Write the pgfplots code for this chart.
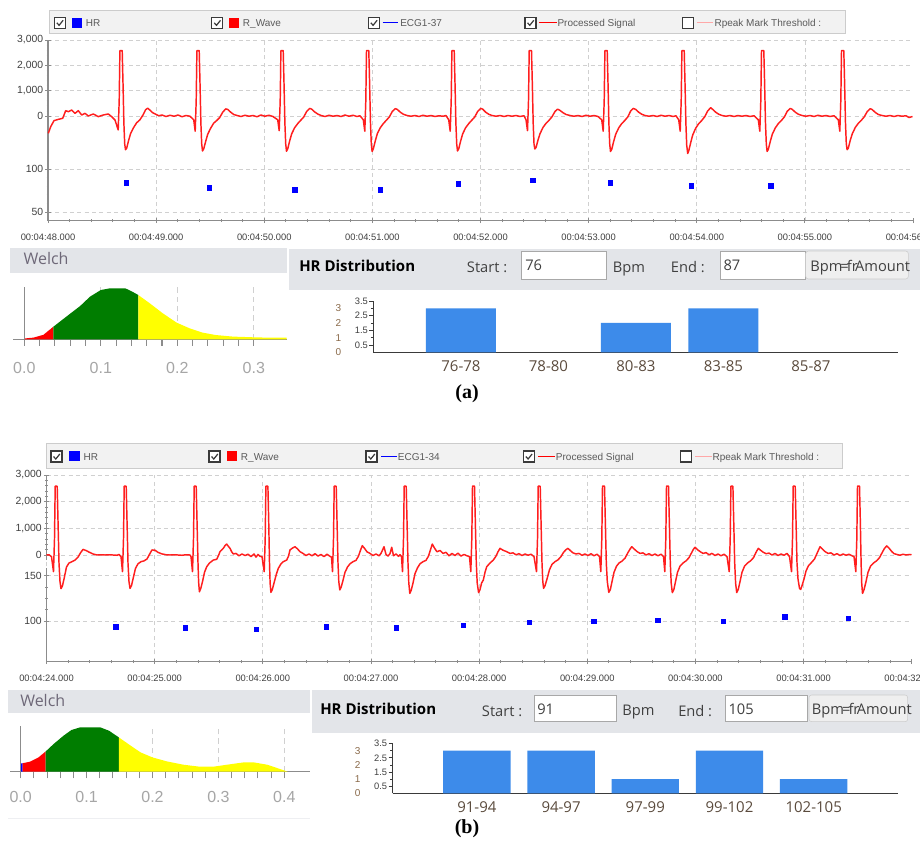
\documentclass[border=0pt]{standalone}
\usepackage{fontspec}
\setmainfont{Liberation Sans}
\newfontfamily\ui{Open Sans}
\newfontfamily\serifb{Liberation Serif}
\usepackage{pgfplots}
\pgfplotsset{compat=1.18}
\definecolor{ecgred}{HTML}{FF1E1E}
\definecolor{gridc}{HTML}{D0D0D0}
\definecolor{axc}{HTML}{8C8C8C}
\definecolor{txt}{HTML}{404040}
\definecolor{legtxt}{HTML}{5A5A5A}
\definecolor{legbg}{HTML}{F2F2F2}
\definecolor{legbd}{HTML}{CCCCCC}
\definecolor{hdr}{HTML}{E3E5E9}
\definecolor{welchtxt}{HTML}{6E6878}
\definecolor{tickgray}{HTML}{A6A6A6}
\definecolor{wgreen}{HTML}{007D00}
\definecolor{wyellow}{HTML}{FFFF00}
\definecolor{barblue}{HTML}{3D8BEA}
\definecolor{catlab}{HTML}{5B4B3D}
\definecolor{brownlab}{HTML}{8A6A4A}
\definecolor{pinkl}{HTML}{FFA8A8}
\definecolor{boxbd}{HTML}{A8A8A8}
\definecolor{btnbg}{HTML}{EFEFEF}
\definecolor{cbd}{HTML}{3A3A3A}
\pgfplotsset{
 ecgbase/.style={anchor=north west, scale only axis, width=648.75pt, tick align=outside,
   tick style={axc, line width=0.6pt}, major tick length=3.8pt, minor tick length=2.2pt,
   grid style={gridc, dash pattern=on 3pt off 2.5pt, line width=0.5pt}},
 yax/.style={hide x axis, axis y line=left, y axis line style={-, draw=axc, line width=0.8pt},
   ymajorgrids, yticklabel style={font=\fontsize{7.8}{9}\selectfont, text=txt, inner sep=1.5pt}},
 frame/.style={hide y axis, axis x line=bottom, x axis line style={-, draw=axc, line width=0.8pt},
   xmajorgrids, ymin=0, ymax=1, extra x tick style={grid=none},
   xticklabel style={font=\fontsize{7}{8}\selectfont, text=txt, yshift=-4.5pt}},
 welch/.style={anchor=north west, scale only axis, hide y axis, axis x line=bottom,
   x axis line style={-, draw=axc, line width=1pt}, tick align=outside,
   tick style={axc, line width=0.8pt}, major tick length=5pt, minor tick length=5pt,
   minor x tick num=4, xmajorgrids, grid style={gridc, dash pattern=on 4pt off 3pt, line width=0.8pt},
   ymin=0, y=0.75pt, xticklabel style={font=\fontsize{12}{14}\selectfont, text=tickgray}},
 hist/.style={anchor=north west, scale only axis, xmin=-1, xmax=5, ymin=0, ymax=3.5,
   axis lines*=left, axis line style={-, draw=cbd, line width=0.8pt}, tick align=outside,
   ytick={0.5,1.5,2.5,3.5}, yticklabels={0.5,1.5,2.5,3.5}, minor ytick={1,2,3},
   tick style={cbd, line width=0.6pt}, major tick length=3pt, minor tick length=2pt,
   extra y ticks={0,1,2,3}, extra y tick labels={0,1,2,3},
   extra y tick style={major tick length=0pt, yticklabel style={xshift=-23pt, text=brownlab, font=\fontsize{7.5}{8}\selectfont}},
   yticklabel style={font=\fontsize{7}{8}\selectfont, text=txt, inner sep=1pt},
   xtick={0,1,2,3,4}, x tick style={draw=none},
   xticklabel style={font=\ui\fontsize{11.25}{13}\selectfont, text=catlab},
   ybar, bar width=0.8}
}
\newcommand\cbx[2]{\draw[cbd, line width=1pt, fill=white] (#1,#2) rectangle ++(11,11);
  \draw[cbd, line width=0.9pt] ({#1+2.5},{#2+5.5}) -- ({#1+4.8},{#2+8}) -- ({#1+8.8},{#2+3});}
\newcommand\cbo[2]{\draw[cbd, line width=1pt, fill=white] (#1,#2) rectangle ++(11,11);}
\begin{document}
\begin{tikzpicture}
\useasboundingbox (0,0) rectangle (690pt,-637.5pt);
\clip (0,0) rectangle (690pt,-637.5pt);
\fill[white] (0,0) rectangle (690pt,-637.5pt);
\begin{scope}[x=0.75pt,y=-0.75pt]
% ---------- panel (a) legend ----------
\draw[legbd, fill=legbg] (49,10.7) rectangle (845,33.3);
\cbx{54.3}{17.3} \fill[blue] (71.7,17.5) rectangle (81.7,27.5);
\node[anchor=base west, inner sep=0, font=\fontsize{7.5}{9}\selectfont, text=legtxt] at (85.7,26.3) {HR};
\cbx{211.7}{17.3} \fill[red] (228.7,17.5) rectangle (239.3,27.5);
\node[anchor=base west, inner sep=0, font=\fontsize{7.5}{9}\selectfont, text=legtxt] at (242.7,26.3) {R\_Wave};
\cbx{368.3}{17.3} \draw[blue, line width=0.9pt] (382.7,22.6) -- (398.3,22.6);
\node[anchor=base west, inner sep=0, font=\fontsize{7.5}{9}\selectfont, text=legtxt] at (400,26.3) {ECG1-37};
\cbx{525}{17.3} \draw[red, line width=0.9pt] (539.3,22.6) -- (556.7,22.6);
\node[anchor=base west, inner sep=0, font=\fontsize{7.5}{9}\selectfont, text=legtxt] at (557.3,26.3) {Processed Signal};
\cbo{682.3}{17.3} \draw[pinkl, line width=0.9pt] (696.7,22.6) -- (713.3,22.6);
\node[anchor=base west, inner sep=0, font=\fontsize{7.5}{9}\selectfont, text=legtxt] at (714.3,26.3) {Rpeak Mark Threshold :};
% ---------- panel (a) headers ----------
\fill[hdr] (10,248.3) rectangle (286.7,272.7);
\node[anchor=base west, inner sep=0, font=\ui\fontsize{12}{14}\selectfont, text=welchtxt] at (23.3,264) {Welch};
\fill[hdr] (289,249) rectangle (920,290);
\node[anchor=base west, inner sep=0, font=\ui\bfseries\fontsize{11.25}{13}\selectfont] at (299,271.7) {HR Distribution};
\node[anchor=base west, inner sep=0, font=\ui\fontsize{11}{13}\selectfont, text=txt] at (466.7,272.7) {Start :};
\draw[boxbd, fill=white] (521,251) rectangle (606.7,279);
\node[anchor=base west, inner sep=0, font=\ui\fontsize{11}{13}\selectfont, text=txt] at (525,270) {76};
\node[anchor=base west, inner sep=0, font=\ui\fontsize{11}{13}\selectfont, text=txt] at (612.7,272) {Bpm};
\node[anchor=base west, inner sep=0, font=\ui\fontsize{11}{13}\selectfont, text=txt] at (670.7,272.7) {End :};
\draw[boxbd, fill=white] (720,251) rectangle (805.7,279);
\node[anchor=base west, inner sep=0, font=\ui\fontsize{11}{13}\selectfont, text=txt] at (723.3,270) {87};
\draw[legbd, fill=btnbg, rounded corners=2pt] (805.7,251) rectangle (908.3,279);
\node[anchor=base west, inner sep=0, font=\ui\fontsize{11}{13}\selectfont, text=txt] at (810,271.7) {Bpm\kern-1.5pt=\kern-1.5pt fr\kern-2pt Amount};
\node[font=\serifb\bfseries\fontsize{15}{17}\selectfont] at (467,394) {(a)};
% ---------- panel (b) legend ----------
\draw[legbd, fill=legbg] (46,443.3) rectangle (842.7,468.3);
\cbx{51}{451} \fill[blue] (69.3,451.2) rectangle (80,461.2);
\node[anchor=base west, inner sep=0, font=\fontsize{7.5}{9}\selectfont, text=legtxt] at (83.3,460) {HR};
\cbx{209}{451} \fill[red] (226.7,451.2) rectangle (237.3,461.2);
\node[anchor=base west, inner sep=0, font=\fontsize{7.5}{9}\selectfont, text=legtxt] at (240.7,460) {R\_Wave};
\cbx{366}{451} \draw[blue, line width=0.9pt] (381,456.3) -- (396.7,456.3);
\node[anchor=base west, inner sep=0, font=\fontsize{7.5}{9}\selectfont, text=legtxt] at (397.7,460) {ECG1-34};
\cbx{523.3}{451} \draw[red, line width=0.9pt] (538.3,456.3) -- (555,456.3);
\node[anchor=base west, inner sep=0, font=\fontsize{7.5}{9}\selectfont, text=legtxt] at (555.7,460) {Processed Signal};
\cbo{680.7}{451} \draw[pinkl, line width=0.9pt] (695,456.3) -- (711.7,456.3);
\node[anchor=base west, inner sep=0, font=\fontsize{7.5}{9}\selectfont, text=legtxt] at (712.3,460) {Rpeak Mark Threshold :};
% ---------- panel (b) headers ----------
\fill[hdr] (8.3,690) rectangle (310,713.3);
\node[anchor=base west, inner sep=0, font=\ui\fontsize{12}{14}\selectfont, text=welchtxt] at (20,706.7) {Welch};
\fill[hdr] (311.7,690) rectangle (920,733.3);
\node[anchor=base west, inner sep=0, font=\ui\bfseries\fontsize{11.25}{13}\selectfont] at (320,714.3) {HR Distribution};
\node[anchor=base west, inner sep=0, font=\ui\fontsize{11}{13}\selectfont, text=txt] at (481.7,716) {Start :};
\draw[boxbd, fill=white] (534,695) rectangle (616,721.7);
\node[anchor=base west, inner sep=0, font=\ui\fontsize{11}{13}\selectfont, text=txt] at (537,714) {91};
\node[anchor=base west, inner sep=0, font=\ui\fontsize{11}{13}\selectfont, text=txt] at (622,715.5) {Bpm};
\node[anchor=base west, inner sep=0, font=\ui\fontsize{11}{13}\selectfont, text=txt] at (678,716) {End :};
\draw[boxbd, fill=white] (725.7,695) rectangle (807.7,721.7);
\node[anchor=base west, inner sep=0, font=\ui\fontsize{11}{13}\selectfont, text=txt] at (728.3,714) {105};
\draw[legbd, fill=btnbg, rounded corners=2pt] (809,695) rectangle (907.7,721.7);
\node[anchor=base west, inner sep=0, font=\ui\fontsize{11}{13}\selectfont, text=txt] at (811.7,714.3) {Bpm\kern-1.5pt=\kern-1.5pt fr\kern-2pt Amount};
\draw[hdr!60] (8.3,818) -- (310,818);
\node[font=\serifb\bfseries\fontsize{15}{17}\selectfont] at (467,829) {(b)};
\end{scope}

% ================= PANEL (a) =================
\begin{axis}[ecgbase, frame, at={(36pt,-30pt)}, height=135.5pt, xmin=48, xmax=913,
  xtick={48,156.125,264.25,372.375,480.5,588.625,696.75,804.875},
  xticklabels={00:04:48.000,00:04:49.000,00:04:50.000,00:04:51.000,00:04:52.000,00:04:53.000,00:04:54.000,00:04:55.000},
  extra x ticks={913}, extra x tick labels={00:04:56.000}, minor xtick={48,69.625,...,913}]
\end{axis}
\begin{axis}[ecgbase, yax, at={(36pt,-112.5pt)}, height=53pt, xmin=48, xmax=913, ymin=39.9, ymax=122.1,
  ytick={50,100}, yticklabels={50,100}, minor y tick num=4]
\addplot[only marks, mark=square*, mark size=1.6pt, blue] coordinates {(126,84.1)(209.3,78.3)(294.7,75.9)(380,75.9)(458.3,82.9)(532.7,86.9)(610.3,84.1)(691,80.6)(770.7,80.6)};
\end{axis}
\begin{axis}[ecgbase, yax, at={(36pt,-30pt)}, height=82.5pt, xmin=48, xmax=913, ymin=-1342, ymax=3000, clip=false,
  ytick={0,1000,2000,3000}, yticklabels={0,{1,000},{2,000},{3,000}}, minor y tick num=4]
\addplot[ecgred, line width=1.1pt, line join=round] coordinates {
(48.3,-684)(50.7,-421)(54,-184)(58.3,-132)(62.7,-92)(65.7,210)(68.3,171)(71.7,237)(75,105)(78.3,210)(81.7,40)(85,105)(88.3,0)(93.3,80)(98.3,-26)(103.3,40)(108.3,80)(111.7,-26)(115,-158)
(118.2,-550)(119.2,600)(119.9,2580)(122.2,2580)(123,1300)(123.9,-300)(124.7,-1100)(125.5,-1330)(126.7,-1270)(128.7,-950)(130.7,-680)(133.7,-450)(136.7,-265)(139.7,-160)(142.7,20)(145.7,250)(147.7,310)(149.7,240)(152.7,130)(155.7,70)(158.7,10)(162,40)(166,-20)(170,30)(174,-10)(178,40)(182,-30)(186,20)(190,-10)(193.7,-150)
(195.2,-600)(196.2,600)(196.9,2580)(199.2,2580)(200,1300)(200.9,-300)(201.7,-1100)(202.5,-1380)(203.7,-1300)(205.7,-1000)(207.7,-720)(210.7,-480)(213.7,-280)(216.7,-180)(219.7,-60)(222.7,150)(225.7,280)(227.7,260)(230.7,150)(233.7,60)(237,20)(241,-20)(245,30)(249,-10)(253,20)(257,-30)(261,40)(265,-10)(269,30)(273,-20)(277.7,-150)
(279.2,-580)(280.2,600)(280.9,2580)(283.2,2580)(284,1300)(284.9,-300)(285.7,-1100)(286.5,-1390)(287.7,-1300)(289.7,-980)(291.7,-700)(294.7,-460)(297.7,-300)(300.7,-170)(303.7,-40)(306.7,180)(309.7,300)(311.7,270)(314.7,160)(317.7,80)(321,20)(325,-20)(329,30)(333,-10)(337,20)(341,-20)(345,40)(349,-10)(353,30)(357,-20)(360,10)(363.3,-150)
(364.8,-600)(365.8,600)(366.5,2580)(368.8,2580)(369.6,1300)(370.5,-300)(371.3,-1100)(372.1,-1400)(373.3,-1300)(375.3,-980)(377.3,-700)(380.3,-460)(383.3,-300)(386.3,-170)(389.3,-40)(392.3,180)(395.3,290)(397.3,260)(400.3,150)(403.3,70)(407,20)(411,-10)(415,20)(419,-20)(423,30)(427,-10)(431,20)(435,-20)(439,10)(443,-10)(446,20)(448.7,-150)
(450.2,-600)(451.2,600)(451.9,2580)(454.2,2580)(455,1300)(455.9,-300)(456.7,-1100)(457.5,-1380)(458.7,-1300)(460.7,-980)(462.7,-700)(465.7,-460)(468.7,-300)(471.7,-170)(474.7,-40)(477.7,180)(480.7,300)(482.7,270)(485.7,150)(488.7,70)(492,20)(496,-10)(500,20)(504,-20)(508,20)(512,-10)(516,20)(520,-20)(524,10)(526,-150)
(527.5,-580)(528.5,600)(529.2,2580)(531.5,2580)(532.3,1300)(533.2,-300)(534,-1100)(534.8,-1300)(536,-1250)(538,-950)(540,-700)(543,-450)(546,-290)(549,-170)(552,-30)(555,180)(557.5,270)(560,220)(563,130)(566,60)(570,20)(574,-10)(578,20)(582,-20)(586,30)(590,-10)(594,20)(598,-20)(601.7,-150)
(603.2,-600)(604.2,600)(604.9,2580)(607.2,2580)(608,1300)(608.9,-300)(609.7,-1100)(610.5,-1400)(611.7,-1320)(613.7,-1000)(615.7,-720)(618.7,-470)(621.7,-300)(624.7,-180)(627.7,-40)(630.7,200)(633.2,300)(635.7,260)(638.7,150)(641.7,70)(645,20)(649,-10)(653,20)(657,-20)(661,30)(665,-10)(669,20)(673,-20)(676,10)(678.7,-150)
(680.2,-600)(681.2,600)(681.9,2580)(684.2,2580)(685,1300)(685.9,-300)(686.7,-1150)(687.7,-1480)(688.7,-1380)(690.7,-1050)(692.7,-750)(695.7,-480)(698.7,-300)(701.7,-180)(704.7,-30)(707.7,200)(710.7,330)(712.7,260)(715.7,150)(718.7,70)(722,20)(726,-10)(730,20)(734,-20)(738,20)(742,-10)(746,20)(750,-20)(754,10)(758.3,-150)
(759.8,-600)(760.8,600)(761.5,2580)(763.8,2580)(764.6,1300)(765.5,-300)(766.3,-1100)(767.1,-1400)(768.3,-1320)(770.3,-1000)(772.3,-720)(775.3,-470)(778.3,-300)(781.3,-180)(784.3,-40)(787.3,190)(790.3,300)(792.3,260)(795.3,150)(798.3,70)(802,20)(806,-10)(810,20)(814,-20)(818,30)(822,-10)(826,20)(830,-20)(834,10)(838.3,-150)
(839.8,-600)(840.8,600)(841.5,2580)(843.8,2580)(844.6,1300)(845.5,-300)(846.3,-1100)(847.1,-1330)(848.3,-1270)(850.3,-950)(852.3,-700)(855.3,-450)(858.3,-290)(861.3,-170)(864.3,-30)(867.3,180)(870.3,290)(872.3,250)(875.3,140)(878.3,60)(882,20)(886,-10)(890,20)(894,-20)(898,20)(902,-10)(906,10)(909,-60)(912.5,-20)};
\end{axis}
% Welch (a)
\begin{axis}[welch, at={(9.975pt,-215.25pt)}, width=205.05pt, xmin=-0.0144, xmax=0.343, ymax=52.3,
  xtick={0,0.1,0.2,0.3}, xticklabels={0.0,0.1,0.2,0.3}, xticklabel style={yshift=-9pt}]
\addplot[fill=red, draw=none] coordinates {(0,0.8)(0.012,1.7)(0.025,4.5)(0.038,12.6)} \closedcycle;
\addplot[fill=wgreen, draw=none] coordinates {(0.038,12.6)(0.055,22.7)(0.073,33.3)(0.086,42.7)(0.1,49.3)(0.112,51)(0.132,51)(0.141,47.7)(0.149,44.3)} \closedcycle;
\addplot[fill=wyellow, draw=none] coordinates {(0.149,44.3)(0.164,36)(0.181,26)(0.199,16.7)(0.216,11)(0.233,6.7)(0.25,4.3)(0.273,2.7)(0.3,2)(0.317,1.7)(0.343,1.7)} \closedcycle;
\draw[axc, line width=1pt] (axis cs:0,0) -- (axis cs:0,52.3);
\end{axis}
% Histogram (a)
\begin{axis}[hist, at={(280.1pt,-225.7pt)}, width=393.75pt, height=38.5pt,
  xticklabels={76-78,78-80,80-83,83-85,85-87}]
\addplot[fill=barblue, draw=none] coordinates {(0,3)(2,2)(3,3)};
\end{axis}

% ================= PANEL (b) =================
\begin{axis}[ecgbase, frame, at={(34.875pt,-356.25pt)}, width=648.9pt, height=140pt, xmin=46.5, xmax=911.7,
  xtick={46.5,154.65,262.8,370.95,479.1,587.25,695.4,803.55},
  xticklabels={00:04:24.000,00:04:25.000,00:04:26.000,00:04:27.000,00:04:28.000,00:04:29.000,00:04:30.000,00:04:31.000},
  extra x ticks={911.7}, extra x tick labels={00:04:32.000}, minor xtick={46.5,68.13,...,911.7}]
\end{axis}
\begin{axis}[ecgbase, yax, at={(34.875pt,-426pt)}, width=648.9pt, height=70.3pt, xmin=46.5, xmax=911.7, ymin=55.1, ymax=158.5,
  ytick={100,150}, yticklabels={100,150}, minor y tick num=3]
\addplot[only marks, mark=square*, mark size=1.6pt, blue] coordinates {(115.7,93.7)(185.3,92.6)(256,90.8)(326,93.7)(396,92.6)(463.3,95.6)(529,98.6)(593.7,100)(657.7,101.1)(723.3,100)(784.7,104.7)(848.3,103)};
\end{axis}
\begin{axis}[ecgbase, yax, at={(34.875pt,-356.25pt)}, width=648.9pt, height=63.75pt, xmin=46.5, xmax=911.7, ymin=-187.5, ymax=3000, clip=false,
  ytick={0,1000,2000,3000}, yticklabels={0,{1,000},{2,000},{3,000}}, minor y tick num=4]
\addplot[ecgred, line width=1.1pt, line join=round] coordinates {
(46.5,0)(49,10)(51.5,-60)
(53.5,-625)(54.5,600)(55.2,2580)(57.2,2580)(58,1300)(59,-300)(60,-1000)(61,-1260)(62.5,-1150)(64,-900)(66.5,-450)(69,-300)(72,-250)(75,-190)(78,-80)(80.5,80)(83,210)(86,170)(89,110)(93,40)(97,0)(101,10)(105,0)(109,10)(113,0)(117,-10)(119,20)(121,-60)
(122.5,-625)(123.5,600)(124.2,2580)(126.2,2580)(127,1300)(128,-300)(129,-1000)(130,-1250)(131.5,-1150)(133,-900)(135.5,-500)(138,-330)(141,-250)(144,-220)(147,-150)(150,60)(152,190)(155,180)(158,100)(162,40)(166,10)(170,0)(174,10)(178,0)(182,-10)(186,10)(190,0)(191,-60)
(192.5,-625)(193.5,600)(194.2,2580)(196.2,2580)(197,1300)(198,-300)(198.6,-1000)(199.4,-1380)(200.8,-1250)(202.5,-1000)(204.5,-650)(206.7,-440)(209.5,-300)(213.3,-190)(216.7,-160)(218.5,-20)(220,125)(221.5,180)(223.3,250)(225,350)(226.7,410)(228.3,330)(230,250)(231.7,120)(233.3,40)(236,60)(239,-30)(242,40)(245,-20)(248,30)(251,-60)(254,40)(256,-80)(258,20)(260,-50)(262,-60)
(264.2,-625)(265.2,600)(265.9,2580)(267.9,2580)(268.7,1300)(269.5,-300)(270.1,-1050)(270.9,-1400)(272.3,-1300)(274,-1050)(276.5,-700)(278.3,-500)(281,-330)(283.3,-250)(286.7,-190)(288.5,-40)(290,190)(292.5,260)(295,310)(297.5,230)(300,125)(303,60)(306,-20)(309,40)(312,-30)(315,50)(318,-40)(321,20)(324,-60)(327,30)(330,-50)(331.5,-80)
(332.5,-625)(333.5,600)(334.2,2580)(336.2,2580)(337,1300)(338,-300)(338.8,-1000)(339.8,-1310)(341.2,-1200)(343,-950)(345,-650)(347.5,-450)(350,-330)(353,-250)(356,-200)(358.5,-40)(360.5,180)(362.3,350)(364.5,250)(367,120)(370,60)(373,-20)(376,40)(379,-30)(381,60)(384,310)(386,20)(388,-40)(390,50)(391.7,290)(393.5,-30)(396,40)(398.5,-50)(400,10)(401.5,-60)
(402.5,-625)(403.5,600)(404.2,2580)(406.2,2580)(407,1300)(408,-300)(408.8,-1050)(409.8,-1440)(411.2,-1320)(413,-1050)(415,-700)(417.5,-480)(420,-330)(423,-250)(426,-200)(428.5,-40)(430.5,200)(432.3,410)(434.5,260)(437,120)(440,170)(443,60)(446,100)(449,-30)(452,60)(455,-20)(458,70)(461,-40)(464,20)(467,-30)(469.5,-60)
(470.8,-625)(471.8,600)(472.5,2580)(474.5,2580)(475.3,1300)(476.3,-300)(477.2,-1050)(478.6,-1410)(480,-1300)(481.6,-1050)(483.3,-940)(485,-650)(486.7,-440)(490,-300)(493.3,-190)(496,-40)(498,120)(500,250)(503,180)(506.7,125)(510,60)(513,80)(516,10)(519,50)(522,-20)(525,40)(528,-10)(531,30)(534,-60)
(536.5,-625)(537.5,600)(538.2,2580)(540.2,2580)(541,1300)(542,-300)(542.8,-1000)(543.6,-1250)(545,-1150)(547,-900)(549.5,-550)(552,-350)(555,-250)(558,-180)(561,-60)(563.5,100)(566,200)(568,250)(570.5,160)(573,80)(576,40)(579,60)(582,-10)(585,40)(588,-20)(591,50)(594,-30)(597,30)(599.5,-60)
(600.8,-625)(601.8,600)(602.5,2580)(604.5,2580)(605.3,1300)(606.3,-300)(607.3,-1000)(608.8,-1400)(610.3,-1300)(612,-1000)(614,-650)(616.5,-420)(619,-300)(622,-230)(625,-120)(627.5,60)(630,220)(631.7,310)(634,230)(637,130)(640,60)(643,80)(646,0)(649,50)(652,-20)(655,40)(658,-30)(661,30)(663.5,-60)
(664.8,-625)(665.8,600)(666.5,2580)(668.5,2580)(669.3,1300)(670.3,-300)(671.2,-1050)(672.3,-1410)(673.8,-1300)(675.5,-1000)(677.5,-650)(680,-420)(683,-300)(686,-220)(689,-100)(691.5,80)(693.5,220)(695,290)(697.5,200)(700,130)(703,60)(706,90)(709,10)(712,60)(715,-20)(718,40)(721,-30)(724,30)(727,-60)
(729.2,-625)(730.2,600)(730.9,2580)(732.9,2580)(733.7,1300)(734.7,-300)(735.6,-1050)(736.7,-1410)(738.2,-1300)(740,-1000)(742,-650)(744.5,-420)(747.5,-300)(750.5,-220)(753.5,-100)(756,100)(758.3,250)(760.5,180)(763,110)(766,50)(769,70)(772,0)(775,60)(778,-20)(781,40)(784,-10)(787,60)(789.5,-60)
(791.5,-625)(792.5,600)(793.2,2580)(795.2,2580)(796,1300)(797,-300)(798,-900)(799.5,-1250)(800.7,-1290)(802,-1150)(804,-900)(806,-600)(808.5,-400)(811.5,-280)(814.5,-150)(817,60)(820,310)(822.5,220)(825,130)(828,60)(831,80)(834,0)(837,50)(840,-20)(843,40)(846,-10)(849,30)(852,-30)(854,-60)
(855.8,-625)(856.8,600)(857.5,2580)(859.5,2580)(860.3,1300)(861.1,-300)(861.7,-1050)(862.5,-1440)(864,-1300)(866,-1000)(868,-650)(870.5,-420)(873.5,-300)(876.5,-220)(879.5,-100)(882,80)(884.5,250)(886.7,340)(889,260)(891.5,140)(894,50)(897,20)(900,-10)(903,30)(906,0)(909,20)(911.5,10)};
\end{axis}
% Welch (b)
\begin{axis}[welch, at={(7.5pt,-544.5pt)}, width=225pt, xmin=-0.0162, xmax=0.439, ymax=45.7,
  xtick={0,0.1,0.2,0.3,0.4}, xticklabels={0.0,0.1,0.2,0.3,0.4}, xticklabel style={yshift=-6.5pt}]
\addplot[fill=blue, draw=none] coordinates {(0,8.3)(0.003,8.5)} \closedcycle;
\addplot[fill=red, draw=none] coordinates {(0.003,8.5)(0.014,10)(0.027,14.3)(0.038,20.3)} \closedcycle;
\addplot[fill=wgreen, draw=none] coordinates {(0.038,20.3)(0.05,27.7)(0.065,36)(0.077,41.7)(0.09,44.3)(0.121,44.3)(0.134,41)(0.149,34.3)} \closedcycle;
\addplot[fill=wyellow, draw=none] coordinates {(0.149,34.3)(0.167,26)(0.182,19.3)(0.2,14.3)(0.222,10.3)(0.247,7)(0.272,5)(0.292,5)(0.313,7)(0.338,9.3)(0.354,9.3)(0.374,7)(0.389,3.7)(0.401,1)(0.405,0)} \closedcycle;
\draw[axc, line width=1pt] (axis cs:0,0) -- (axis cs:0,45.7);
\end{axis}
% Histogram (b)
\begin{axis}[hist, at={(294.5pt,-557.7pt)}, width=378.9pt, height=37.3pt,
  xticklabels={91-94,94-97,97-99,99-102,102-105}]
\addplot[fill=barblue, draw=none] coordinates {(0,3)(1,3)(2,1)(3,3)(4,1)};
\end{axis}
\end{tikzpicture}
\end{document}
